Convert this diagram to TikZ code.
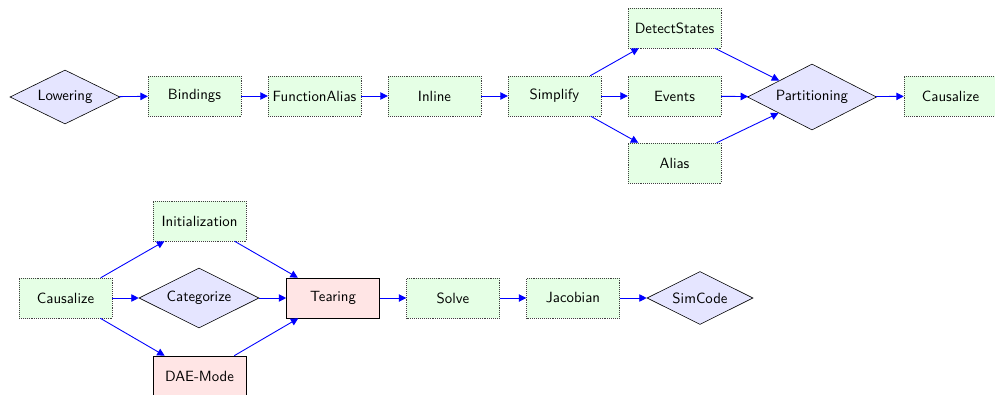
\documentclass[tikz,border=0pt]{standalone}
\usetikzlibrary{shapes.geometric,arrows.meta}
\renewcommand{\familydefault}{\sfdefault}
\newcommand{\pxu}{0.675pt}
\tikzset{
  passbox/.style={draw=black!75, densely dotted, line width=0.3pt, fill=green!10, rectangle,
    minimum width={93*\pxu}, minimum height={40*\pxu}, inner sep=2pt},
  solidbox/.style={draw, solid, fill=red!10, rectangle,
    minimum width={93*\pxu}, minimum height={40*\pxu}, inner sep=2pt},
  stage/.style={draw, fill=blue!10, diamond, aspect=2, inner sep=0pt},
  flow/.style={draw=blue, semithick, -{Triangle[length=5pt,width=5pt]}},
}
\begin{document}
\begin{tikzpicture}[x=\pxu, y=-\pxu, font=\sffamily]
\useasboundingbox (0,0) rectangle (995,395);

% front end pipeline
\node[stage, minimum width={110*\pxu}, minimum height={54*\pxu}] (low) at (65,97) {Lowering};
\node[passbox] (bind) at (194.5,96) {Bindings};
\node[passbox] (falias) at (314.5,96) {FunctionAlias};
\node[passbox] (inl) at (434.5,96) {Inline};
\node[passbox] (simp) at (554.5,96) {Simplify};
\node[passbox] (det) at (674.5,28) {DetectStates};
\node[passbox] (ev) at (674.5,96) {Events};
\node[passbox] (al) at (674.5,163) {Alias};
\node[stage, minimum width={129*\pxu}, minimum height={66*\pxu}] (part) at (812,97) {Partitioning};
\node[passbox] (caus1) at (950.5,96) {Causalize};

% back end pipeline
\node[passbox] (caus2) at (65.5,298) {Causalize};
\node[passbox] (init) at (199.5,221) {Initialization};
\node[stage, minimum width={120*\pxu}, minimum height={60*\pxu}] (cat) at (199,298) {Categorize};
\node[solidbox] (dae) at (199.5,376) {DAE-Mode};
\node[solidbox] (tear) at (333,298) {Tearing};
\node[passbox] (solve) at (453,298) {Solve};
\node[passbox] (jac) at (573,298) {Jacobian};
\node[stage, minimum width={106*\pxu}, minimum height={53*\pxu}] (sim) at (700,298) {SimCode};

% connectors
\draw[flow] (low) -- (bind);
\draw[flow] (bind) -- (falias);
\draw[flow] (falias) -- (inl);
\draw[flow] (inl) -- (simp);
\draw[flow] (simp) -- (det);
\draw[flow] (simp) -- (ev);
\draw[flow] (simp) -- (al);
\draw[flow] (det) -- (part);
\draw[flow] (ev) -- (part);
\draw[flow] (al) -- (part);
\draw[flow] (part) -- (caus1);

\draw[flow] (caus2) -- (init);
\draw[flow] (caus2) -- (cat);
\draw[flow] (caus2) -- (dae);
\draw[flow] (init) -- (tear);
\draw[flow] (cat) -- (tear);
\draw[flow] (dae) -- (tear);
\draw[flow] (tear) -- (solve);
\draw[flow] (solve) -- (jac);
\draw[flow] (jac) -- (sim);
\end{tikzpicture}
\end{document}
